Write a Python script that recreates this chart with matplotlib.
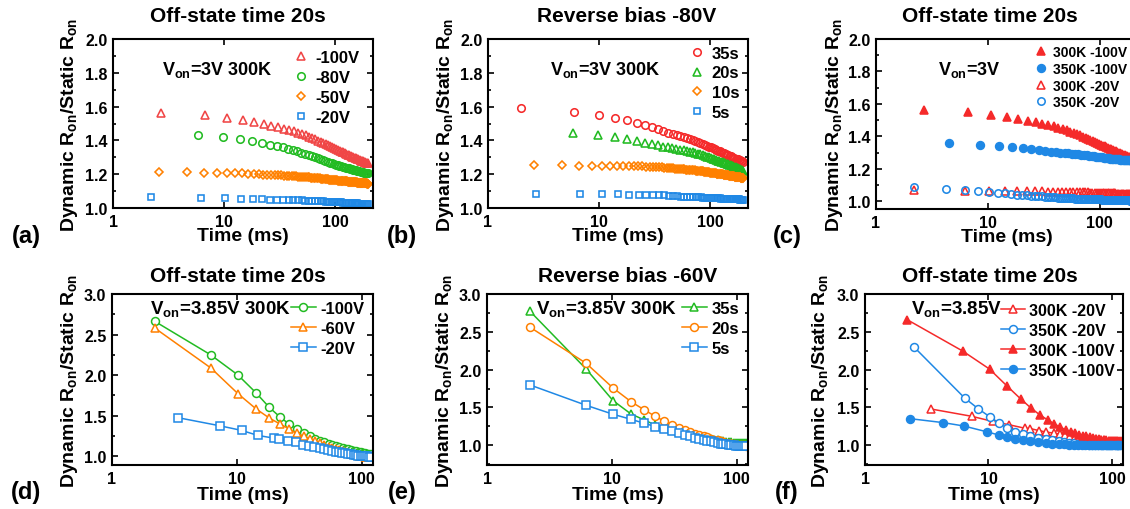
import matplotlib

matplotlib.use("Agg")
import matplotlib.pyplot as plt
from matplotlib.ticker import MultipleLocator, NullLocator, FormatStrFormatter

plt.rcParams["font.family"] = ["Liberation Sans", "DejaVu Sans"]
plt.rcParams["font.weight"] = "bold"
plt.rcParams["axes.labelweight"] = "bold"
plt.rcParams["mathtext.fontset"] = "custom"
plt.rcParams["mathtext.rm"] = "Liberation Sans:bold"
plt.rcParams["mathtext.it"] = "Liberation Sans:bold"
plt.rcParams["mathtext.bf"] = "Liberation Sans:bold"

# ---------------- top row data (V_on = 3V) ----------------
t_27 = [2.7, 6.7, 10.7, 14.7, 18.7, 22.7, 26.7, 30.7, 34.7, 38.7, 42.7, 46.7, 50.7, 54.7, 58.7,
        62.7, 66.7, 70.7, 74.7, 78.7, 82.7, 86.7, 90.7, 94.7, 98.7, 102.7, 106.7, 110.7, 114.7,
        118.7, 122.7, 126.7, 130.7, 134.7, 138.7, 142.7, 146.7, 150.7, 154.7, 158.7, 162.7,
        166.7, 170.7, 174.7, 178.7, 182.7, 186.7, 190.7, 194.7, 198.7]
t_58 = [5.8, 9.8, 13.8, 17.8, 21.8, 25.8, 29.8, 33.8, 37.8, 41.8, 45.8, 49.8, 53.8, 57.8, 61.8,
        65.8, 69.8, 73.8, 77.8, 81.8, 85.8, 89.8, 93.8, 97.8, 101.8, 105.8, 109.8, 113.8, 117.8,
        121.8, 125.8, 129.8, 133.8, 137.8, 141.8, 145.8, 149.8, 153.8, 157.8, 161.8, 165.8,
        169.8, 173.8, 177.8, 181.8, 185.8, 189.8, 193.8, 197.8]
t_22 = [2.2, 6.2, 10.2, 14.2, 18.2, 22.2, 26.2, 30.2, 34.2, 38.2, 42.2, 46.2, 50.2, 54.2, 58.2,
        62.2, 66.2, 70.2, 74.2, 78.2, 82.2, 86.2, 90.2, 94.2, 98.2, 102.2, 106.2, 110.2, 114.2,
        118.2, 122.2, 126.2, 130.2, 134.2, 138.2, 142.2, 146.2, 150.2, 154.2, 158.2, 162.2,
        166.2, 170.2, 174.2, 178.2, 182.2, 186.2, 190.2, 194.2, 198.2]
t_20 = [2.0, 6.0, 10.0, 14.0, 18.0, 22.0, 26.0, 30.0, 34.0, 38.0, 42.0, 46.0, 50.0, 54.0, 58.0,
        62.0, 66.0, 70.0, 74.0, 78.0, 82.0, 86.0, 90.0, 94.0, 98.0, 102.0, 106.0, 110.0, 114.0,
        118.0, 122.0, 126.0, 130.0, 134.0, 138.0, 142.0, 146.0, 150.0, 154.0, 158.0, 162.0,
        166.0, 170.0, 174.0, 178.0, 182.0, 186.0, 190.0, 194.0, 198.0]
t_45 = [4.5, 8.5, 12.5, 16.5, 20.5, 24.5, 28.5, 32.5, 36.5, 40.5, 44.5, 48.5, 52.5, 56.5, 60.5,
        64.5, 68.5, 72.5, 76.5, 80.5, 84.5, 88.5, 92.5, 96.5, 100.5, 104.5, 108.5, 112.5, 116.5,
        120.5, 124.5, 128.5, 132.5, 136.5, 140.5, 144.5, 148.5, 152.5, 156.5, 160.5, 164.5,
        168.5, 172.5, 176.5, 180.5, 184.5, 188.5, 192.5, 196.5]
t_fine = [2.6, 4.6, 6.6, 8.6, 10.6, 12.6, 14.6, 16.6, 18.6, 20.6, 22.6, 24.6, 26.6, 28.6, 30.6,
          32.6, 34.6, 36.6, 38.6, 40.6, 42.6, 44.6, 46.6, 48.6, 50.6, 52.6, 54.6, 56.6, 58.6,
          60.6, 62.6, 64.6, 66.6, 68.6, 70.6, 72.6, 74.6, 76.6, 78.6, 80.6, 82.6, 84.6, 86.6,
          88.6, 90.6, 92.6, 94.6, 96.6, 98.6, 100.6, 102.6, 104.6, 106.6, 108.6, 110.6, 112.6,
          114.6, 116.6, 118.6, 120.6, 122.6, 124.6, 126.6, 128.6, 130.6, 132.6, 134.6, 136.6,
          138.6, 140.6, 142.6, 144.6, 146.6, 148.6, 150.6, 152.6, 154.6, 156.6, 158.6, 160.6,
          162.6, 164.6, 166.6, 168.6, 170.6, 172.6, 174.6, 176.6, 178.6, 180.6, 182.6, 184.6,
          186.6, 188.6, 190.6, 192.6, 194.6, 196.6, 198.6]
t_fine22 = [2.2, 4.2, 6.2, 8.2, 10.2, 12.2, 14.2, 16.2, 18.2, 20.2, 22.2, 24.2, 26.2, 28.2, 30.2,
            32.2, 34.2, 36.2, 38.2, 40.2, 42.2, 44.2, 46.2, 48.2, 50.2, 52.2, 54.2, 56.2, 58.2,
            60.2, 62.2, 64.2, 66.2, 68.2, 70.2, 72.2, 74.2, 76.2, 78.2, 80.2, 82.2, 84.2, 86.2,
            88.2, 90.2, 92.2, 94.2, 96.2, 98.2, 100.2, 102.2, 104.2, 106.2, 108.2, 110.2, 112.2,
            114.2, 116.2, 118.2, 120.2, 122.2, 124.2, 126.2, 128.2, 130.2, 132.2, 134.2, 136.2,
            138.2, 140.2, 142.2, 144.2, 146.2, 148.2, 150.2, 152.2, 154.2, 156.2, 158.2, 160.2,
            162.2, 164.2, 166.2, 168.2, 170.2, 172.2, 174.2, 176.2, 178.2, 180.2, 182.2, 184.2,
            186.2, 188.2, 190.2, 192.2, 194.2, 196.2, 198.2]

# (a) off-state 20s, 300K
a_100v = [1.562, 1.548, 1.534, 1.522, 1.508, 1.498, 1.488, 1.479, 1.470, 1.462, 1.453, 1.445,
          1.437, 1.430, 1.423, 1.415, 1.407, 1.399, 1.392, 1.385, 1.378, 1.372, 1.366, 1.360,
          1.354, 1.349, 1.344, 1.339, 1.334, 1.329, 1.325, 1.320, 1.316, 1.312, 1.308, 1.304,
          1.300, 1.297, 1.293, 1.290, 1.287, 1.284, 1.281, 1.278, 1.276, 1.273, 1.271, 1.269,
          1.267, 1.265]
a_80v = [1.434, 1.420, 1.406, 1.394, 1.385, 1.375, 1.367, 1.360, 1.352, 1.344, 1.336, 1.328,
         1.321, 1.314, 1.307, 1.300, 1.294, 1.288, 1.283, 1.278, 1.273, 1.269, 1.265, 1.261,
         1.257, 1.254, 1.251, 1.248, 1.245, 1.242, 1.239, 1.236, 1.234, 1.231, 1.229, 1.226,
         1.224, 1.222, 1.220, 1.218, 1.216, 1.214, 1.213, 1.211, 1.210, 1.208, 1.207, 1.206,
         1.205]
a_50v = [1.213, 1.211, 1.210, 1.208, 1.207, 1.206, 1.205, 1.202, 1.200,
         1.199, 1.198, 1.197, 1.196, 1.195, 1.194, 1.193, 1.192, 1.191, 1.190, 1.189, 1.188,
         1.187, 1.186, 1.185, 1.184,
         1.183, 1.183, 1.182, 1.181, 1.180, 1.179, 1.178, 1.178, 1.177, 1.176, 1.175, 1.174,
         1.173, 1.173, 1.172, 1.171, 1.170, 1.169, 1.168, 1.168, 1.167, 1.166, 1.165, 1.164,
         1.164,
         1.163, 1.163, 1.162, 1.162, 1.161, 1.161, 1.160, 1.160, 1.159, 1.159, 1.158, 1.158,
         1.157, 1.157, 1.156, 1.156, 1.155, 1.155, 1.154, 1.154, 1.153, 1.153, 1.152, 1.152,
         1.152,
         1.151, 1.151, 1.151, 1.150, 1.150, 1.150, 1.149, 1.149, 1.149, 1.148, 1.148, 1.148,
         1.147, 1.147, 1.147, 1.146, 1.146, 1.146, 1.145, 1.145, 1.145, 1.144, 1.144, 1.144]
a_20v = [1.065, 1.061, 1.057, 1.055, 1.053, 1.051, 1.050, 1.049, 1.048, 1.047, 1.047, 1.046,
         1.045, 1.044, 1.043, 1.042, 1.042, 1.041, 1.040, 1.039, 1.038, 1.038, 1.037, 1.036,
         1.035, 1.035, 1.034, 1.033, 1.033, 1.032, 1.031, 1.031, 1.030, 1.030, 1.029, 1.029,
         1.028, 1.028, 1.027, 1.027, 1.026, 1.026, 1.025, 1.025, 1.024, 1.024, 1.023, 1.023,
         1.022, 1.022]

# (b) reverse bias -80V, 300K
b_35s = [1.593, 1.570, 1.552, 1.534, 1.519, 1.505, 1.492, 1.479, 1.467, 1.456, 1.446, 1.438,
         1.432, 1.426, 1.421, 1.415, 1.409, 1.403, 1.397, 1.391, 1.385, 1.379, 1.374, 1.368,
         1.363, 1.358, 1.353, 1.348, 1.344, 1.340, 1.335, 1.331, 1.327, 1.323, 1.319, 1.315,
         1.312, 1.308, 1.305, 1.301, 1.298, 1.295, 1.292, 1.289, 1.287, 1.284, 1.282, 1.279,
         1.277, 1.275]
b_20s = [1.446, 1.432, 1.420, 1.408, 1.397, 1.386, 1.378, 1.370, 1.363, 1.358, 1.353, 1.349,
         1.345, 1.341, 1.337, 1.333, 1.329, 1.325, 1.321, 1.317, 1.312, 1.308, 1.304, 1.300,
         1.296, 1.292, 1.288, 1.284, 1.280, 1.276, 1.273, 1.270, 1.267, 1.264, 1.261, 1.258,
         1.255, 1.252, 1.249, 1.246, 1.243, 1.240, 1.237, 1.234, 1.231, 1.228, 1.226, 1.223,
         1.220]
b_10s = [1.252, 1.252, 1.251, 1.251, 1.250, 1.250, 1.249, 1.249, 1.248,
         1.248, 1.247, 1.246, 1.245, 1.244, 1.243, 1.242, 1.241, 1.240, 1.238, 1.237, 1.236,
         1.235, 1.234, 1.233, 1.232,
         1.231, 1.230, 1.229, 1.228, 1.227, 1.226, 1.225, 1.224, 1.224, 1.223, 1.222, 1.221,
         1.220, 1.219, 1.218, 1.218, 1.217, 1.216, 1.215, 1.214, 1.213, 1.212, 1.212, 1.211,
         1.210,
         1.209, 1.208, 1.208, 1.207, 1.206, 1.205, 1.204, 1.204, 1.203, 1.202, 1.202, 1.201,
         1.200, 1.199, 1.199, 1.198, 1.197, 1.196, 1.196, 1.195, 1.194, 1.194, 1.193, 1.192,
         1.191,
         1.191, 1.190, 1.189, 1.189, 1.188, 1.187, 1.187, 1.186, 1.185, 1.185, 1.184, 1.184,
         1.183, 1.183, 1.182, 1.182, 1.181, 1.181, 1.180, 1.180, 1.180, 1.179, 1.179, 1.179]
b_5s = [1.085, 1.083, 1.081, 1.080, 1.079, 1.078, 1.077, 1.076, 1.075, 1.074, 1.072, 1.071,
        1.069, 1.068, 1.066, 1.065, 1.065, 1.064, 1.064, 1.063, 1.063, 1.062, 1.061, 1.061,
        1.060, 1.060, 1.059, 1.059, 1.058, 1.057, 1.057, 1.056, 1.056, 1.056, 1.055, 1.055,
        1.054, 1.054, 1.053, 1.053, 1.053, 1.052, 1.052, 1.051, 1.051, 1.051, 1.050, 1.050,
        1.049, 1.049]

# (c) off-state 20s, 300K vs 350K (300K -100V is the same data as (a))
c_350_100v = [1.359, 1.349, 1.341, 1.333, 1.326, 1.320, 1.314, 1.310, 1.306, 1.303, 1.300,
              1.298, 1.296, 1.293, 1.291, 1.289, 1.287, 1.285, 1.283, 1.281, 1.279, 1.277,
              1.276, 1.274, 1.273, 1.271, 1.270, 1.268, 1.267, 1.266, 1.264, 1.263, 1.262,
              1.261, 1.260, 1.259, 1.258, 1.257, 1.256, 1.256, 1.255, 1.254, 1.254, 1.253,
              1.253, 1.252, 1.252, 1.251, 1.251]
c_300_20v = [1.068, 1.066, 1.064, 1.063, 1.062, 1.062, 1.061, 1.061, 1.060, 1.060, 1.059, 1.059,
             1.058, 1.058, 1.057, 1.057, 1.056, 1.056, 1.055, 1.055, 1.054, 1.054, 1.053, 1.053,
             1.052, 1.052, 1.051, 1.051, 1.051, 1.050, 1.050, 1.050, 1.049, 1.049, 1.049, 1.048,
             1.048, 1.048, 1.048, 1.047, 1.047, 1.047, 1.047, 1.046, 1.046, 1.046, 1.046, 1.045,
             1.045, 1.045]
c_350_20v = [1.088, 1.078, 1.068, 1.063, 1.057, 1.053, 1.049, 1.045, 1.042,
             1.039, 1.037, 1.035, 1.033, 1.031, 1.030, 1.028, 1.027, 1.026, 1.025, 1.024, 1.023,
             1.022, 1.021, 1.020, 1.020,
             1.019, 1.019, 1.018, 1.018, 1.017, 1.017, 1.017, 1.016, 1.016, 1.016, 1.015, 1.015,
             1.015, 1.014, 1.014, 1.014, 1.014, 1.013, 1.013, 1.013, 1.013, 1.012, 1.012, 1.012,
             1.012,
             1.012, 1.011, 1.011, 1.011, 1.011, 1.011, 1.010, 1.010, 1.010, 1.010, 1.010, 1.009,
             1.009, 1.009, 1.009, 1.009, 1.009, 1.008, 1.008, 1.008, 1.008, 1.008, 1.008, 1.008,
             1.007,
             1.007, 1.007, 1.007, 1.007, 1.007, 1.007, 1.007, 1.007, 1.006, 1.006, 1.006, 1.006,
             1.006, 1.006, 1.006, 1.006, 1.006, 1.006, 1.005, 1.005, 1.005, 1.005, 1.005, 1.005]

# ---------------- bottom row data (V_on = 3.85V) ----------------
t_b = [2.2, 6.2, 10.2, 14.2, 18.2, 22.2, 26.2, 30.2, 34.2, 38.2, 42.2, 46.2, 50.2, 54.2, 58.2,
       62.2, 66.2, 70.2, 74.2, 78.2, 82.2, 86.2, 90.2, 94.2, 98.2, 102.2, 106.2, 110.2, 114.2,
       118.2]
t_b20 = [3.4, 7.3, 10.9, 14.7, 19.7, 21.9, 25.6, 29.5, 34.1, 38.1, 41.8, 46, 50, 54, 58, 62, 66,
         70, 74, 78, 82, 86, 90, 94, 98, 102, 106, 110, 114, 118]
t_f350_20 = [2.5, 6.4, 8.3, 10.3, 12.2, 14.2, 16.3, 18.9, 21.8, 25.2, 29.0, 33, 37, 41, 45, 49,
             53, 57, 61, 65, 69, 73, 77, 81, 85, 89, 93, 97, 101, 105, 109, 113, 117]
t_f350_100 = [2.3, 4.3, 6.3, 9.8, 12.1, 14.2, 16.4, 19.0, 21.9, 25.3, 29.0, 33, 37, 41, 45, 49,
              53, 57, 61, 65, 69, 73, 77, 81, 85, 89, 93, 97, 101, 105, 109, 113, 117]

d_100v = [2.663, 2.247, 2.000, 1.782, 1.600, 1.481, 1.395, 1.340, 1.290, 1.250, 1.215, 1.190,
          1.168, 1.150, 1.135, 1.122, 1.110, 1.100, 1.090, 1.082, 1.074, 1.066, 1.059, 1.052,
          1.045, 1.039, 1.034, 1.031, 1.029, 1.030]
d_60v = [2.580, 2.086, 1.770, 1.584, 1.469, 1.395, 1.337, 1.280, 1.242, 1.212, 1.185, 1.160,
         1.140, 1.118, 1.100, 1.085, 1.070, 1.057, 1.046, 1.036, 1.028, 1.020, 1.013, 1.007,
         1.002, 0.998, 0.994, 0.991, 0.989, 0.988]
d_20v = [1.473, 1.374, 1.317, 1.255, 1.222, 1.206, 1.185, 1.170, 1.142, 1.128, 1.112, 1.098,
         1.085, 1.074, 1.064, 1.055, 1.047, 1.040, 1.033, 1.027, 1.021, 1.016, 1.011, 1.007,
         1.003, 1.000, 0.997, 0.995, 0.993, 0.992]

e_35s = [2.775, 2.011, 1.592, 1.415, 1.335, 1.268, 1.232, 1.205, 1.182, 1.162, 1.145, 1.130,
         1.117, 1.105, 1.094, 1.084, 1.075, 1.067, 1.060, 1.053, 1.047, 1.042, 1.038, 1.035,
         1.032, 1.030, 1.028, 1.027, 1.026, 1.025]
e_20s = [2.563, 2.086, 1.759, 1.578, 1.468, 1.384, 1.320, 1.268, 1.230, 1.200, 1.176, 1.155,
         1.137, 1.120, 1.105, 1.090, 1.077, 1.065, 1.054, 1.044, 1.035, 1.027, 1.020, 1.014,
         1.009, 1.005, 1.002, 1.000, 0.998, 0.997]
e_5s = [1.799, 1.530, 1.411, 1.344, 1.291, 1.248, 1.213, 1.185, 1.160, 1.138, 1.119, 1.102,
        1.087, 1.074, 1.062, 1.051, 1.041, 1.032, 1.024, 1.017, 1.011, 1.006, 1.002, 0.999,
        0.996, 0.994, 0.992, 0.991, 0.990, 0.990]

f_300_20v = [1.481, 1.384, 1.315, 1.272, 1.226, 1.221, 1.195, 1.175, 1.160, 1.148, 1.135, 1.125,
             1.115, 1.107, 1.100, 1.094, 1.088, 1.083, 1.078, 1.074, 1.070, 1.066, 1.063, 1.060,
             1.057, 1.055, 1.053, 1.051, 1.050, 1.049]
f_350_20v = [2.298, 1.627, 1.481, 1.375, 1.291, 1.230, 1.181, 1.150, 1.119, 1.097, 1.079, 1.065,
             1.053, 1.043, 1.035, 1.028, 1.022, 1.017, 1.013, 1.010, 1.008, 1.006, 1.005, 1.004,
             1.003, 1.002, 1.002, 1.001, 1.001, 1.000, 1.000, 1.000, 1.000]
f_300_100v = [2.660, 2.245, 2.008, 1.781, 1.615, 1.490, 1.400, 1.336, 1.283, 1.240, 1.205, 1.180,
              1.160, 1.143, 1.129, 1.117, 1.107, 1.098, 1.090, 1.083, 1.077, 1.072, 1.067, 1.063,
              1.060, 1.057, 1.055, 1.053, 1.052, 1.051]
f_350_100v = [1.353, 1.300, 1.256, 1.177, 1.137, 1.105, 1.085, 1.067, 1.052, 1.040, 1.030, 1.022,
              1.016, 1.012, 1.009, 1.006, 1.004, 1.003, 1.002, 1.001, 1.000, 1.000, 1.000, 1.000,
              1.000, 1.000, 1.000, 1.000, 1.000, 1.000, 1.000, 1.000, 1.000]

RED = "#f52a2a"
RED_A = "#f04646"
GREEN = "#22bb22"
ORANGE = "#ff8000"
BLUE = "#1f88e5"

W, H = 1130, 510


def px_axes(left, top, right, bottom):
    return fig.add_axes([left / W, 1 - bottom / H, (right - left) / W, (bottom - top) / H])


def frame(ax, xmax, ylim, ymaj, ymin, lab_x, lab_y):
    ax.set_xscale("log")
    ax.set_xlim(1, xmax)
    ax.set_ylim(*ylim)
    ax.set_xticks([1, 10, 100], ["1", "10", "100"])
    ax.xaxis.set_minor_locator(NullLocator())
    ax.yaxis.set_major_locator(MultipleLocator(ymaj))
    ax.yaxis.set_minor_locator(MultipleLocator(ymin))
    ax.yaxis.set_major_formatter(FormatStrFormatter("%.1f"))
    ax.tick_params(which="both", direction="in", top=True, right=True, width=1.2,
                   labelsize=11.5)
    ax.tick_params(which="major", length=4.5, pad=4)
    ax.tick_params(which="minor", length=2.5)
    for s in ax.spines.values():
        s.set_linewidth(1.5)
    ax.set_xlabel("Time (ms)", fontsize=14)
    ax.set_ylabel("Dynamic R$_{on}$/Static R$_{on}$", fontsize=14)
    ax.xaxis.set_label_coords(0.5, lab_x)
    ax.yaxis.set_label_coords(lab_y, 0.5)


def scat(ax, t, y, marker, color, label, ms=5.7, filled=False):
    ax.plot(t, y, ls="none", marker=marker, ms=ms, mew=1.15, mec=color,
            mfc=color if filled else "none", label=label)


def line(ax, t, y, marker, color, label, filled=False):
    ax.plot(t, y, "-", color=color, lw=1.1, marker=marker, ms=5.7, mew=1.1, mec=color,
            mfc=color if filled else "white", label=label)


fig = plt.figure(figsize=(W / 100, H / 100), dpi=100)

ax_a = px_axes(113, 40, 373, 209)
ax_b = px_axes(488, 40, 748, 209)
ax_c = px_axes(876, 40, 1138, 210)
ax_d = px_axes(112, 295, 373, 466)
ax_e = px_axes(487, 295, 748, 466)
ax_f = px_axes(865, 295, 1123, 466)

# (a)
scat(ax_a, t_27, a_100v, "^", RED_A, "-100V")
scat(ax_a, t_58, a_80v, "o", GREEN, "-80V", ms=5.4)
scat(ax_a, t_fine, a_50v, "D", ORANGE, "-50V", ms=4.5)
scat(ax_a, t_22, a_20v, "s", BLUE, "-20V", ms=4.8)
frame(ax_a, 220, (1.0, 2.0), 0.2, 0.1, -0.11, -0.125)
ax_a.text(0.19, 0.824, "V$_{on}$=3V 300K", transform=ax_a.transAxes, fontsize=13, va="center")
ax_a.legend(loc="upper left", bbox_to_anchor=(0.69, 0.935), frameon=False, borderpad=0,
            borderaxespad=0, handlelength=1.0, handletextpad=0.4, labelspacing=0.3,
            prop={"size": 12, "weight": "bold"})

# (b)
scat(ax_b, t_20, b_35s, "o", RED, "35s", ms=5.4)
scat(ax_b, t_58, b_20s, "^", GREEN, "20s")
scat(ax_b, t_fine, b_10s, "D", ORANGE, "10s", ms=4.5)
scat(ax_b, t_27, b_5s, "s", BLUE, "5s", ms=4.8)
frame(ax_b, 220, (1.0, 2.0), 0.2, 0.1, -0.11, -0.125)
ax_b.text(0.238, 0.824, "V$_{on}$=3V 300K", transform=ax_b.transAxes, fontsize=13, va="center")
ax_b.legend(loc="upper left", bbox_to_anchor=(0.77, 0.96), frameon=False, borderpad=0,
            borderaxespad=0, handlelength=1.0, handletextpad=0.4, labelspacing=0.28,
            prop={"size": 12, "weight": "bold"})

# (c)
scat(ax_c, t_27, a_100v, "^", RED, "300K -100V", filled=True)
scat(ax_c, t_45, c_350_100v, "o", BLUE, "350K -100V", ms=5.6, filled=True)
scat(ax_c, t_22, c_300_20v, "^", RED, "300K -20V")
scat(ax_c, t_fine22, c_350_20v, "o", BLUE, "350K -20V", ms=5.3)
frame(ax_c, 220, (0.953, 2.0), 0.2, 0.1, -0.11, -0.118)
ax_c.text(0.237, 0.825, "V$_{on}$=3V", transform=ax_c.transAxes, fontsize=13, va="center")
ax_c.legend(loc="upper left", bbox_to_anchor=(0.605, 0.965), frameon=False, borderpad=0,
            borderaxespad=0, handlelength=1.0, handletextpad=0.35, labelspacing=0.2,
            prop={"size": 10, "weight": "bold"})

# (d)
line(ax_d, t_b, d_100v, "o", GREEN, "-100V")
line(ax_d, t_b, d_60v, "^", ORANGE, "-60V")
line(ax_d, t_b20, d_20v, "s", BLUE, "-20V")
frame(ax_d, 123, (0.89, 3.0), 0.5, 0.25, -0.12, -0.123)
ax_d.text(0.144, 0.918, "V$_{on}$=3.85V 300K", transform=ax_d.transAxes, fontsize=13.5,
          va="center")
ax_d.legend(loc="upper left", bbox_to_anchor=(0.685, 0.96), frameon=False, borderpad=0,
            borderaxespad=0, handlelength=1.5, handletextpad=0.25, labelspacing=0.3,
            prop={"size": 12, "weight": "bold"})

# (e)
line(ax_e, t_b, e_35s, "^", GREEN, "35s")
line(ax_e, t_b, e_20s, "o", ORANGE, "20s")
line(ax_e, t_b, e_5s, "s", BLUE, "5s")
frame(ax_e, 123, (0.74, 3.0), 0.5, 0.25, -0.12, -0.123)
ax_e.text(0.188, 0.918, "V$_{on}$=3.85V 300K", transform=ax_e.transAxes, fontsize=13.5,
          va="center")
ax_e.legend(loc="upper left", bbox_to_anchor=(0.747, 0.96), frameon=False, borderpad=0,
            borderaxespad=0, handlelength=1.5, handletextpad=0.25, labelspacing=0.3,
            prop={"size": 12, "weight": "bold"})

# (f)
line(ax_f, t_b20, f_300_20v, "^", RED, "300K -20V")
line(ax_f, t_f350_20, f_350_20v, "o", BLUE, "350K -20V")
line(ax_f, t_b, f_300_100v, "^", RED, "300K -100V", filled=True)
line(ax_f, t_f350_100, f_350_100v, "o", BLUE, "350K -100V", filled=True)
frame(ax_f, 123, (0.74, 3.0), 0.5, 0.25, -0.12, -0.13)
ax_f.text(0.178, 0.918, "V$_{on}$=3.85V", transform=ax_f.transAxes, fontsize=13.5,
          va="center")
ax_f.legend(loc="upper left", bbox_to_anchor=(0.527, 0.95), frameon=False, borderpad=0,
            borderaxespad=0, handlelength=1.5, handletextpad=0.25, labelspacing=0.32,
            prop={"size": 11.5, "weight": "bold"})

# titles and panel letters
titles = ["Off-state time 20s", "Reverse bias -80V", "Off-state time 20s",
          "Off-state time 20s", "Reverse bias -60V", "Off-state time 20s"]
title_xy = [(238, 17), (627, 17), (990, 17), (238, 277), (628, 277), (990, 277)]
for txt, (x, y) in zip(titles, title_xy):
    fig.text(x / W, 1 - y / H, txt, ha="center", va="center", fontsize=15)

letters = ["(a)", "(b)", "(c)", "(d)", "(e)", "(f)"]
letter_xy = [(26, 237), (402, 237), (787, 237), (26, 493), (402, 493), (787, 493)]
for txt, (x, y) in zip(letters, letter_xy):
    fig.text(x / W, 1 - y / H, txt, ha="center", va="center", fontsize=17)

fig.savefig("out.png", dpi=100)
print("Saved: out.png")
